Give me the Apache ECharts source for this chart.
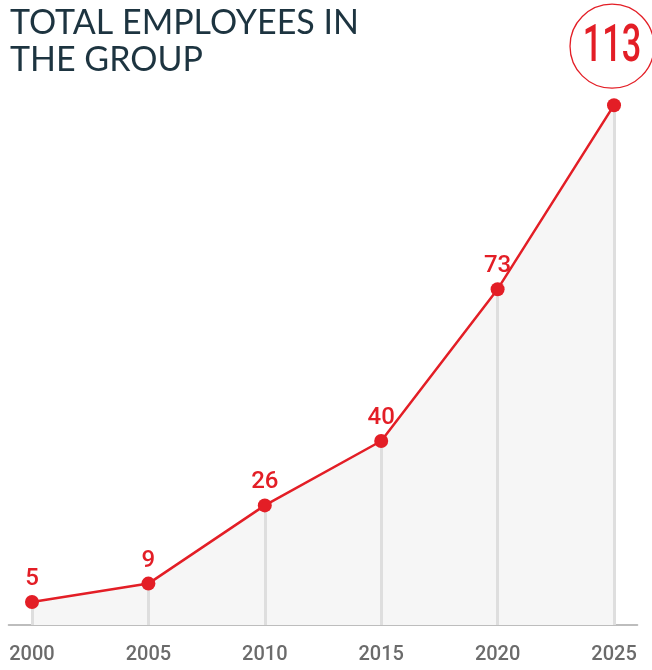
<!DOCTYPE html>
<html>
<head>
<meta charset="utf-8">
<script src="https://cdn.jsdelivr.net/npm/echarts@6/dist/echarts.min.js"></script>
<style>
html,body{margin:0;padding:0;background:#fff;}
#chart{width:652px;height:670px;}
</style>
</head>
<body>
<div id="chart"></div>
<script>
const titleText = "TOTAL EMPLOYEES IN\nTHE GROUP";
const years = [2000, 2005, 2010, 2015, 2020, 2025];
const employees = [5, 9, 26, 40, 73, 113];
const tickLabels = ["2000", "2005", "2010", "2015", "2020", "2025"];

const RED = '#e31e26';
const chart = echarts.init(document.getElementById('chart'));

const lastIdx = employees.length - 1;
const pairs = years.map((y, i) => [y, employees[i]]);
const lineData = pairs.map((p, i) => {
  const item = { value: p };
  if (i === lastIdx) item.label = { show: false };
  return item;
});

const dropLines = years.map((y, i) => [
  { coord: [y, 0] },
  { coord: [y, employees[i]] }
]);

chart.setOption({
  animation: false,
  title: {
    text: titleText,
    left: 5,
    top: 0,
    textStyle: {
      fontFamily: 'Lato, "Open Sans", sans-serif',
      fontSize: 34,
      fontWeight: 'normal',
      lineHeight: 37,
      color: '#1d3440'
    }
  },
  grid: { left: 8.7, right: 14.7, top: 73, bottom: 45 },
  xAxis: {
    type: 'value',
    min: 1999,
    max: 2026,
    splitLine: { show: false },
    axisTick: { show: false },
    axisLine: { show: true, lineStyle: { color: '#bdbdbd', width: 2 } },
    axisLabel: {
      customValues: years,
      formatter: (v) => tickLabels[years.indexOf(v)] || '',
      margin: 20,
      color: '#6b6b6b',
      fontFamily: 'Roboto, sans-serif',
      fontWeight: 500,
      fontSize: 20
    }
  },
  yAxis: {
    type: 'value',
    min: 0,
    max: 120,
    show: false,
    splitLine: { show: false }
  },
  series: [{
    name: 'area',
    type: 'line',
    data: pairs,
    symbol: 'none',
    lineStyle: { width: 0, opacity: 0 },
    areaStyle: { color: '#f6f6f6', opacity: 1 },
    silent: true,
    z: 1,
    markLine: {
      silent: true,
      symbol: 'none',
      z: 2,
      label: { show: false },
      lineStyle: { color: '#dedede', width: 3, type: 'solid' },
      data: dropLines
    }
  }, {
    name: 'employees',
    type: 'line',
    data: lineData,
    symbol: 'circle',
    symbolSize: 14,
    itemStyle: { color: RED },
    lineStyle: { color: RED, width: 2.5 },
    label: {
      show: true,
      position: 'top',
      distance: 4,
      color: RED,
      fontFamily: 'Roboto, sans-serif',
      fontWeight: 500,
      fontSize: 24
    },
    z: 5
  }]
});

// Highlight badge for the last value, positioned via the chart's own scales
const p = chart.convertToPixel({ gridIndex: 0 }, pairs[lastIdx]);
const cx = p[0] - 2, cy = p[1] - 59;
chart.setOption({
  graphic: [{
    type: 'circle',
    shape: { cx: cx, cy: cy, r: 42 },
    style: { fill: '#fff', stroke: RED, lineWidth: 1.3 },
    z: 10
  }, {
    type: 'text',
    x: cx,
    y: cy + 2,
    scaleX: 0.66,
    style: {
      text: String(employees[lastIdx]),
      fill: RED,
      font: '500 52px Roboto, sans-serif',
      align: 'center',
      verticalAlign: 'middle'
    },
    z: 11
  }]
});
</script>
</body>
</html>
